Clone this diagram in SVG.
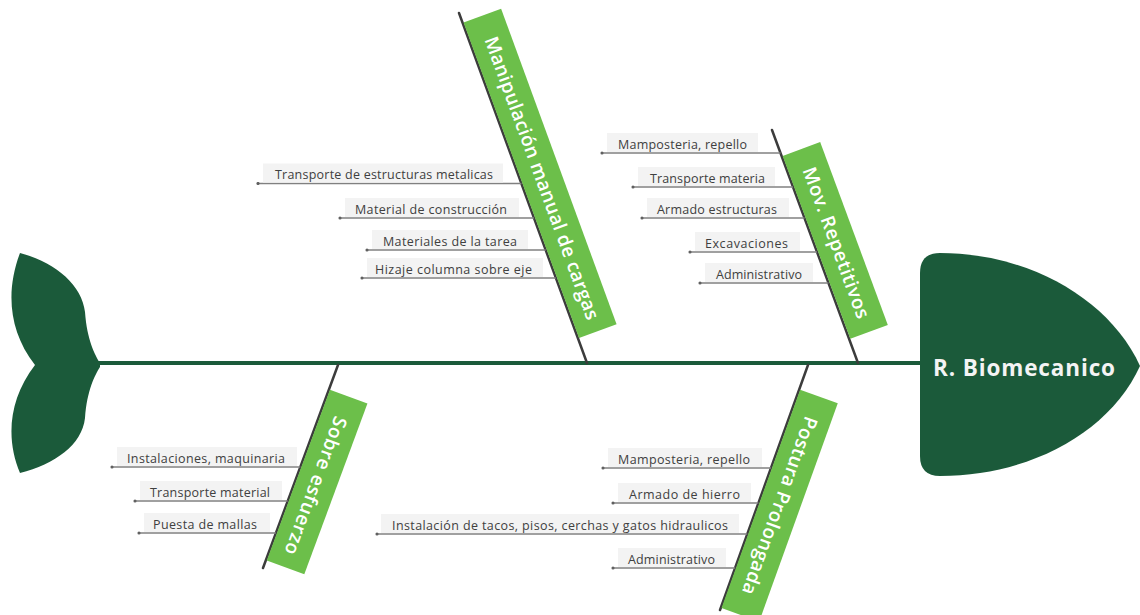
<svg xmlns="http://www.w3.org/2000/svg" width="1140" height="615" viewBox="0 0 1140 615">
  <defs>
    <style>
      .fish { fill: #1b5a3a; }
      .spine { stroke: #1b5a3a; stroke-width: 4; fill: none; }
      .bone { stroke: #3c3c3c; stroke-width: 2.5; fill: none; stroke-linecap: round; }
      .twig { stroke: #808080; stroke-width: 1.5; fill: none; marker-start: url(#dot); }
      .band { fill: #f3f3f3; }
      .cat { fill: #6cbf4a; }
      .cat-text { font-family: "Open Sans", "Noto Sans", sans-serif; font-size: 19px; font-weight: 600; fill: #ffffff; text-anchor: middle; }
      .item { font-family: "Open Sans", "Noto Sans", sans-serif; font-size: 12.5px; fill: #404040; }
      .head-text { font-family: "Open Sans", "Noto Sans", sans-serif; font-size: 22.5px; font-weight: 700; fill: #f4f4f4; }
    </style>
    <marker id="dot" viewBox="0 0 4 4" refX="2" refY="2" markerWidth="2.6" markerHeight="2.6" markerUnits="strokeWidth">
      <circle cx="2" cy="2" r="1.6" fill="#606060"/>
    </marker>
  </defs>

  <rect width="1140" height="615" fill="#ffffff"/>

  <!-- connectors: spine, category bones and item twigs -->
  <g id="connectors">
    <line class="spine" x1="98" y1="363" x2="922" y2="363"/>

    <line class="bone" x1="459" y1="13" x2="587" y2="363"/>
    <line class="bone" x1="772" y1="130" x2="858" y2="363"/>
    <line class="bone" x1="338" y1="365" x2="263" y2="568"/>
    <line class="bone" x1="808" y1="365" x2="720" y2="610"/>

    <!-- Manipulación manual de cargas -->
    <line class="twig" x1="258" y1="183.5" x2="521.4" y2="183.5"/>
    <line class="twig" x1="340" y1="218" x2="534" y2="218"/>
    <line class="twig" x1="367" y1="250" x2="545.7" y2="250"/>
    <line class="twig" x1="362" y1="278" x2="555.9" y2="278"/>

    <!-- Mov. Repetitivos -->
    <line class="twig" x1="602" y1="153" x2="780.5" y2="153"/>
    <line class="twig" x1="633" y1="187" x2="793" y2="187"/>
    <line class="twig" x1="642" y1="218" x2="804.5" y2="218"/>
    <line class="twig" x1="690" y1="252" x2="817" y2="252"/>
    <line class="twig" x1="700" y1="283" x2="828.5" y2="283"/>

    <!-- Sobre esfuerzo -->
    <line class="twig" x1="112" y1="467" x2="300.3" y2="467"/>
    <line class="twig" x1="135" y1="501" x2="287.7" y2="501"/>
    <line class="twig" x1="139" y1="533" x2="275.9" y2="533"/>

    <!-- Postura Prolongada -->
    <line class="twig" x1="603" y1="468" x2="771" y2="468"/>
    <line class="twig" x1="613" y1="503" x2="758.4" y2="503"/>
    <line class="twig" x1="377" y1="534" x2="747.3" y2="534"/>
    <line class="twig" x1="613" y1="568" x2="735.1" y2="568"/>
  </g>

  <!-- fish tail -->
  <g id="tail">
    <path class="fish" d="M100,363 C95,355 87,340 85,312 C82,285 55,262 20,253 C6,290 8,330 35,365 C8,400 6,440 20,473 C55,464 82,445 85,418 C87,390 95,375 100,367 Z"/>
  </g>

  <!-- fish head -->
  <g id="head">
    <path class="fish" d="M940,253 C1030,253 1110,300 1140,366 C1110,432 1030,476 940,476 Q920,476 920,456 L920,273 Q920,253 940,253 Z"/>
    <text class="head-text" x="933" y="376" textLength="182" lengthAdjust="spacing">R. Biomecanico</text>
  </g>

  <!-- category labels -->
  <g id="cat-manipulacion" transform="translate(459,13) rotate(69.9)">
    <rect class="cat" x="10.5" y="-41" width="336" height="40"/>
    <text class="cat-text" x="183.5" y="-14.5" textLength="300" lengthAdjust="spacing">Manipulación manual de cargas</text>
  </g>
  <g id="cat-mov" transform="translate(772,130) rotate(69.7)">
    <rect class="cat" x="28" y="-41" width="195" height="40"/>
    <text class="cat-text" x="128" y="-14.5" textLength="160" lengthAdjust="spacing">Mov. Repetitivos</text>
  </g>
  <g id="cat-sobre" transform="translate(338,365) rotate(110.3)">
    <rect class="cat" x="26" y="-41" width="182" height="40"/>
    <text class="cat-text" x="121" y="-14.5" textLength="146" lengthAdjust="spacing">Sobre esfuerzo</text>
  </g>
  <g id="cat-postura" transform="translate(808,365) rotate(109.8)">
    <rect class="cat" x="26" y="-41" width="232" height="40"/>
    <text class="cat-text" x="142" y="-14.5" textLength="188" lengthAdjust="spacing">Postura Prolongada</text>
  </g>

  <!-- items: Manipulación manual de cargas -->
  <g id="item-m1">
    <rect class="band" x="263" y="163.5" width="240" height="19"/>
    <text class="item" x="275" y="179" textLength="218" lengthAdjust="spacing">Transporte de estructuras metalicas</text>
  </g>
  <g id="item-m2">
    <rect class="band" x="345" y="198" width="174" height="19"/>
    <text class="item" x="355" y="213.5" textLength="152" lengthAdjust="spacing">Material de construcción</text>
  </g>
  <g id="item-m3">
    <rect class="band" x="372" y="230" width="156" height="19"/>
    <text class="item" x="383" y="245.5" textLength="134" lengthAdjust="spacing">Materiales de la tarea</text>
  </g>
  <g id="item-m4">
    <rect class="band" x="367" y="258" width="176" height="19"/>
    <text class="item" x="375" y="273.5" textLength="157" lengthAdjust="spacing">Hizaje columna sobre eje</text>
  </g>

  <!-- items: Mov. Repetitivos -->
  <g id="item-r1">
    <rect class="band" x="607" y="133" width="151" height="19"/>
    <text class="item" x="618" y="148.5" textLength="129" lengthAdjust="spacing">Mamposteria, repello</text>
  </g>
  <g id="item-r2">
    <rect class="band" x="638" y="167" width="137" height="19"/>
    <text class="item" x="650" y="182.5" textLength="115" lengthAdjust="spacing">Transporte materia</text>
  </g>
  <g id="item-r3">
    <rect class="band" x="647" y="198" width="142" height="19"/>
    <text class="item" x="657" y="213.5" textLength="120" lengthAdjust="spacing">Armado estructuras</text>
  </g>
  <g id="item-r4">
    <rect class="band" x="695" y="232" width="105" height="19"/>
    <text class="item" x="705" y="247.5" textLength="83" lengthAdjust="spacing">Excavaciones</text>
  </g>
  <g id="item-r5">
    <rect class="band" x="705" y="263" width="108" height="19"/>
    <text class="item" x="716" y="278.5" textLength="86" lengthAdjust="spacing">Administrativo</text>
  </g>

  <!-- items: Sobre esfuerzo -->
  <g id="item-s1">
    <rect class="band" x="117" y="447" width="180" height="19"/>
    <text class="item" x="127" y="462.5" textLength="158" lengthAdjust="spacing">Instalaciones, maquinaria</text>
  </g>
  <g id="item-s2">
    <rect class="band" x="140" y="481" width="142" height="19"/>
    <text class="item" x="150" y="496.5" textLength="120" lengthAdjust="spacing">Transporte material</text>
  </g>
  <g id="item-s3">
    <rect class="band" x="144" y="513" width="126" height="19"/>
    <text class="item" x="153" y="528.5" textLength="104" lengthAdjust="spacing">Puesta de mallas</text>
  </g>

  <!-- items: Postura Prolongada -->
  <g id="item-p1">
    <rect class="band" x="608" y="448" width="154" height="19"/>
    <text class="item" x="618" y="463.5" textLength="132" lengthAdjust="spacing">Mamposteria, repello</text>
  </g>
  <g id="item-p2">
    <rect class="band" x="618" y="483" width="133" height="19"/>
    <text class="item" x="629" y="498.5" textLength="111" lengthAdjust="spacing">Armado de hierro</text>
  </g>
  <g id="item-p3">
    <rect class="band" x="381" y="514" width="358" height="19"/>
    <text class="item" x="392" y="529.5" textLength="336" lengthAdjust="spacing">Instalación de tacos, pisos, cerchas y gatos hidraulicos</text>
  </g>
  <g id="item-p4">
    <rect class="band" x="618" y="548" width="108" height="19"/>
    <text class="item" x="628" y="563.5" textLength="87" lengthAdjust="spacing">Administrativo</text>
  </g>
</svg>
